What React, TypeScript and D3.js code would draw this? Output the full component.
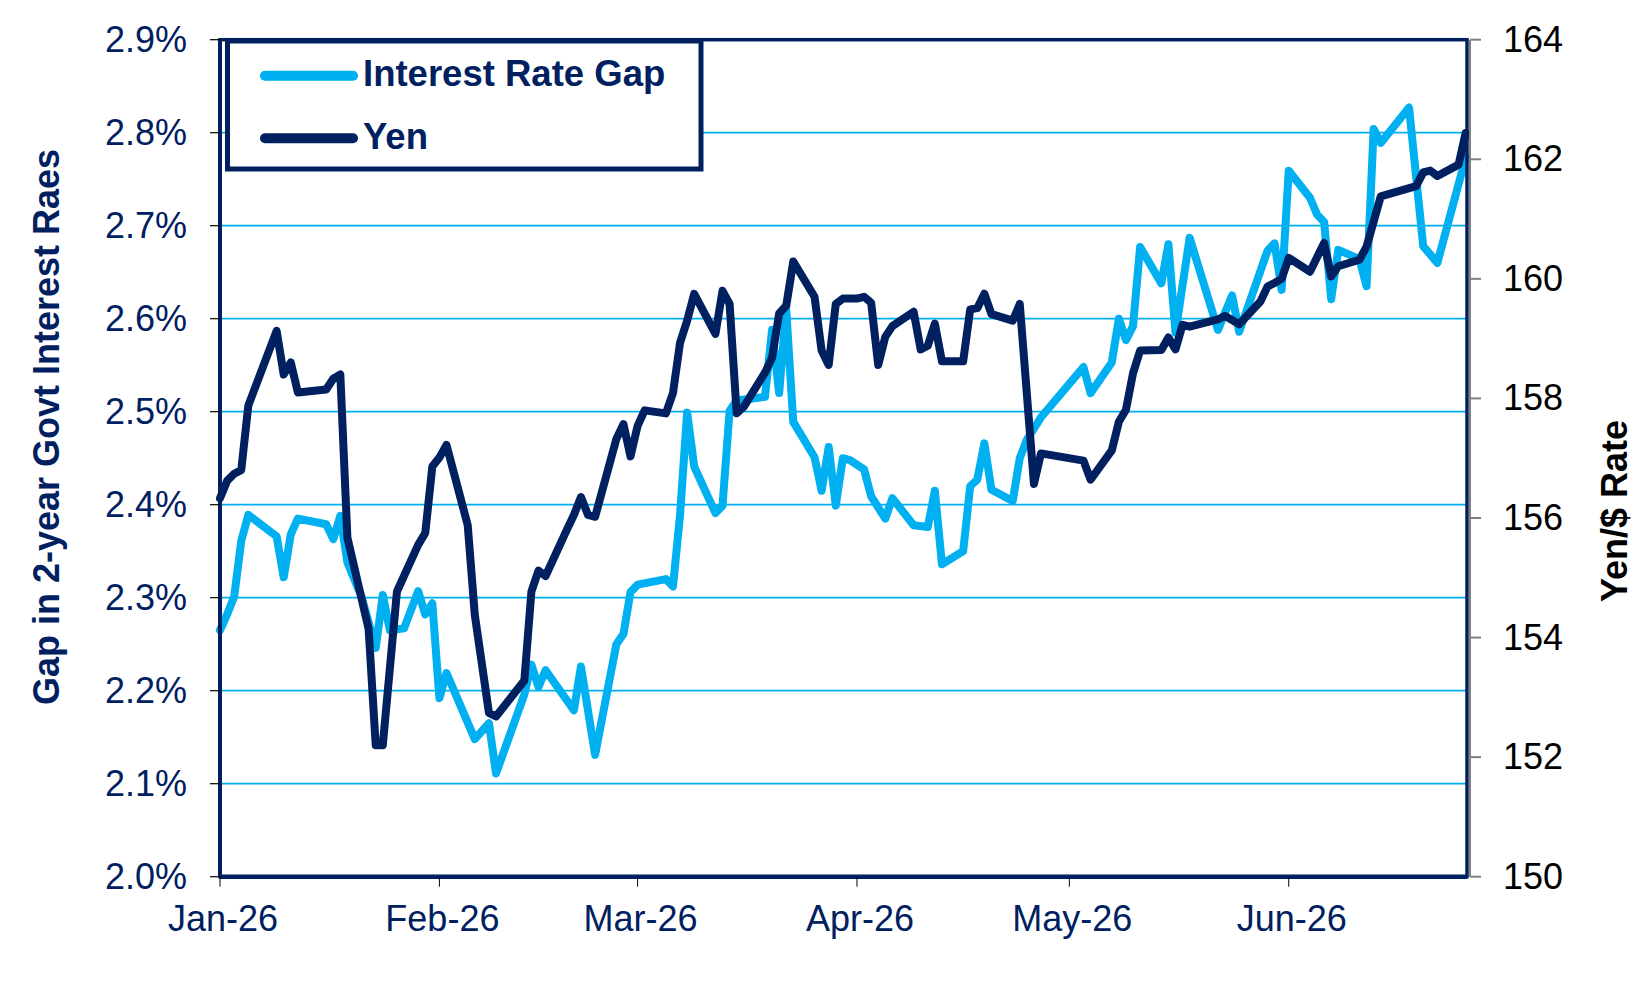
import React from "react";
import * as d3 from "d3";

// ---- Data ----
const yenDates = [
  "2026-01-01","2026-01-02","2026-01-03","2026-01-04","2026-01-05","2026-01-09","2026-01-10","2026-01-11","2026-01-12",
  "2026-01-16","2026-01-17","2026-01-18","2026-01-19","2026-01-22","2026-01-23","2026-01-24","2026-01-26","2026-01-29",
  "2026-01-30","2026-01-31","2026-02-01","2026-02-02","2026-02-05","2026-02-06","2026-02-08","2026-02-09","2026-02-13",
  "2026-02-14","2026-02-15","2026-02-16","2026-02-19","2026-02-20","2026-02-21","2026-02-22","2026-02-23","2026-02-26",
  "2026-02-27","2026-02-28","2026-03-01","2026-03-02","2026-03-05","2026-03-06","2026-03-07","2026-03-08","2026-03-09",
  "2026-03-12","2026-03-13","2026-03-14","2026-03-15","2026-03-16","2026-03-19","2026-03-20","2026-03-21","2026-03-22",
  "2026-03-23","2026-03-26","2026-03-27","2026-03-28","2026-03-29","2026-03-30","2026-04-01","2026-04-02","2026-04-03",
  "2026-04-04","2026-04-05","2026-04-06","2026-04-09","2026-04-10","2026-04-11","2026-04-12","2026-04-13","2026-04-16",
  "2026-04-17","2026-04-18","2026-04-19","2026-04-20","2026-04-23","2026-04-24","2026-04-26","2026-04-27","2026-05-03",
  "2026-05-04","2026-05-07","2026-05-08","2026-05-09","2026-05-10","2026-05-11","2026-05-14","2026-05-15","2026-05-16",
  "2026-05-17","2026-05-18","2026-05-22","2026-05-23","2026-05-25","2026-05-28","2026-05-29","2026-05-30","2026-05-31",
  "2026-06-01","2026-06-04","2026-06-06","2026-06-07","2026-06-08","2026-06-11","2026-06-12","2026-06-14","2026-06-19",
  "2026-06-20","2026-06-21","2026-06-22","2026-06-25","2026-06-26",
];
const yenValues = [
  156.33,156.62,156.74,156.8,157.88,159.13,158.4,158.6,158.1,
  158.15,158.33,158.4,155.67,154.14,152.2,152.2,154.77,155.55,
  155.75,156.86,157.01,157.22,155.88,154.38,152.74,152.68,153.28,
  154.77,155.12,155.03,155.8,156.05,156.35,156.05,156.02,157.32,
  157.57,157.03,157.54,157.8,157.75,158.09,158.93,159.3,159.75,
  159.08,159.8,159.58,157.75,157.86,158.43,158.68,159.42,159.55,
  160.29,159.7,158.8,158.56,159.58,159.67,159.67,159.7,159.6,
  158.56,159.03,159.21,159.45,158.82,158.88,159.25,158.62,158.62,
  159.49,159.51,159.75,159.41,159.3,159.58,156.57,157.08,156.96,
  156.64,157.13,157.61,157.81,158.42,158.8,158.81,159.02,158.82,
  159.23,159.2,159.32,159.38,159.24,159.62,159.87,159.93,160.0,
  160.35,160.12,160.6,160.04,160.21,160.32,160.54,161.38,161.55,
  161.78,161.81,161.72,161.91,162.44,
];

const gapDates = [
  "2026-01-01","2026-01-02","2026-01-03","2026-01-04","2026-01-05","2026-01-09","2026-01-10","2026-01-11","2026-01-12",
  "2026-01-16","2026-01-17","2026-01-18","2026-01-19","2026-01-21","2026-01-23","2026-01-24","2026-01-25","2026-01-27",
  "2026-01-29","2026-01-30","2026-01-31","2026-02-01","2026-02-02","2026-02-06","2026-02-08","2026-02-09","2026-02-13",
  "2026-02-14","2026-02-15","2026-02-16","2026-02-20","2026-02-21","2026-02-23","2026-02-26","2026-02-27","2026-02-28",
  "2026-03-01","2026-03-05","2026-03-06","2026-03-07","2026-03-08","2026-03-09","2026-03-12","2026-03-13","2026-03-14",
  "2026-03-15","2026-03-17","2026-03-19","2026-03-20","2026-03-21","2026-03-22","2026-03-23","2026-03-26","2026-03-27",
  "2026-03-28","2026-03-29","2026-03-30","2026-03-31","2026-04-02","2026-04-03","2026-04-05","2026-04-06","2026-04-09",
  "2026-04-11","2026-04-12","2026-04-13","2026-04-16","2026-04-17","2026-04-18","2026-04-19","2026-04-20","2026-04-23",
  "2026-04-24","2026-04-25","2026-04-27","2026-05-03","2026-05-04","2026-05-07","2026-05-08","2026-05-09","2026-05-10",
  "2026-05-11","2026-05-14","2026-05-15","2026-05-16","2026-05-18","2026-05-22","2026-05-24","2026-05-25","2026-05-29",
  "2026-05-30","2026-05-31","2026-06-01","2026-06-04","2026-06-05","2026-06-06","2026-06-07","2026-06-08","2026-06-11",
  "2026-06-12","2026-06-13","2026-06-14","2026-06-18","2026-06-20","2026-06-22","2026-06-26",
];
const gapValues = [
  2.265,2.282,2.301,2.361,2.389,2.366,2.322,2.368,2.385,
  2.379,2.363,2.388,2.338,2.301,2.246,2.303,2.265,2.267,
  2.307,2.282,2.294,2.192,2.219,2.148,2.165,2.111,2.196,
  2.228,2.204,2.222,2.179,2.226,2.131,2.25,2.261,2.306,
  2.314,2.32,2.312,2.389,2.499,2.441,2.391,2.399,2.501,
  2.512,2.514,2.516,2.588,2.52,2.61,2.489,2.451,2.415,
  2.462,2.399,2.45,2.448,2.438,2.409,2.385,2.407,2.378,
  2.376,2.415,2.336,2.35,2.42,2.427,2.466,2.416,2.404,
  2.45,2.47,2.494,2.548,2.52,2.553,2.6,2.577,2.592,
  2.677,2.638,2.68,2.585,2.687,2.588,2.625,2.586,2.673,
  2.681,2.631,2.759,2.73,2.712,2.704,2.621,2.674,2.664,
  2.635,2.804,2.789,2.827,2.678,2.66,2.773,
];

const leftTicks = [2.0, 2.1, 2.2, 2.3, 2.4, 2.5, 2.6, 2.7, 2.8, 2.9];
const rightTicks = [150, 152, 154, 156, 158, 160, 162, 164];
const monthTicks = ["2026-01-01","2026-02-01","2026-03-01","2026-04-01","2026-05-01","2026-06-01"];
const seriesNames = ["Interest Rate Gap", "Yen"];
const leftTitle = "Gap in 2-year Govt Interest Raes";
const rightTitle = "Yen/$ Rate";

// ---- Styles ----
const NAVY = "#002060";
const LIGHT = "#00B0F0";
const FONT = "'Liberation Sans', Arial, sans-serif";

const parse = (s: string) => new Date(s + "T00:00:00Z");

export default function App() {
  const W = 1650, H = 989;
  const left = 220, right = 1467, top = 39.7, bottom = 876.7;

  const x = d3
    .scaleUtc()
    .domain([parse("2026-01-01"), new Date(Date.UTC(2026, 0, 1) + 176.4 * 86400000)])
    .range([left, 1468.5]);
  const yL = d3.scaleLinear().domain([2.0, 2.9]).range([bottom, top]);
  const yR = d3.scaleLinear().domain([150, 164]).range([bottom, top]);

  const gapData = gapDates.map((d, i) => ({ d: parse(d), v: gapValues[i] }));
  const yenData = yenDates.map((d, i) => ({ d: parse(d), v: yenValues[i] }));

  const gapLine = d3.line<{ d: Date; v: number }>().x((p) => x(p.d)).y((p) => yL(p.v));
  const yenLine = d3.line<{ d: Date; v: number }>().x((p) => x(p.d)).y((p) => yR(p.v));
  const fmtMonth = d3.utcFormat("%b-%y");
  const fmtPct = (v: number) => d3.format(".1f")(v) + "%";

  return (
    <div style={{ position: "absolute", left: 0, top: 0 }}>
      <svg width={W} height={H} style={{ display: "block", background: "#fff" }} fontFamily={FONT}>
        {/* gridlines */}
        {leftTicks.slice(1, -1).map((t) => (
          <line key={"g" + t} x1={left} x2={right} y1={yL(t)} y2={yL(t)} stroke={LIGHT} strokeWidth={1.8} />
        ))}

        {/* series */}
        <path d={gapLine(gapData) || ""} fill="none" stroke={LIGHT} strokeWidth={8} strokeLinejoin="round" strokeLinecap="round" />
        <path d={yenLine(yenData) || ""} fill="none" stroke={NAVY} strokeWidth={8} strokeLinejoin="round" strokeLinecap="round" />

        {/* frame */}
        <rect x={left} y={top} width={right - left} height={bottom - top} fill="none" stroke={NAVY} strokeWidth={3.5} />
        <line x1={left} x2={left} y1={top} y2={bottom} stroke={NAVY} strokeWidth={4} />
        <line x1={left} x2={right} y1={bottom} y2={bottom} stroke={NAVY} strokeWidth={4.5} />

        {/* left axis ticks & labels */}
        {leftTicks.map((t) => (
          <g key={"l" + t}>
            <line x1={left - 10} x2={left} y1={yL(t)} y2={yL(t)} stroke="#000" strokeWidth={1.2} />
            <text x={187} y={yL(t) + 12.5} textAnchor="end" fontSize={36} fill={NAVY}>
              {fmtPct(t)}
            </text>
          </g>
        ))}

        {/* right axis */}
        <line x1={1470} x2={1470} y1={top} y2={bottom} stroke="#808080" strokeWidth={2} />
        {rightTicks.map((t) => (
          <g key={"r" + t}>
            <line x1={1470} x2={1481} y1={yR(t)} y2={yR(t)} stroke="#808080" strokeWidth={2} />
            <text x={1503} y={yR(t) + 12} textAnchor="start" fontSize={36} fill="#000">
              {t}
            </text>
          </g>
        ))}

        {/* x axis */}
        {monthTicks.map((m) => {
          const xx = x(parse(m));
          return (
            <g key={m}>
              <line x1={xx} x2={xx} y1={bottom} y2={bottom + 10} stroke="#000" strokeWidth={1} />
              <text x={xx + 3} y={931} textAnchor="middle" fontSize={36} fill={NAVY}>
                {fmtMonth(parse(m))}
              </text>
            </g>
          );
        })}

        {/* axis titles */}
        <text transform="translate(59,427) rotate(-90)" textAnchor="middle" fontSize={36} fontWeight="bold" fill={NAVY}>
          {leftTitle}
        </text>
        <text transform="translate(1627,511) rotate(-90)" textAnchor="middle" fontSize={36} fontWeight="bold" fill="#000">
          {rightTitle}
        </text>

        {/* legend */}
        <rect x={227.5} y={41} width={473.5} height={128} fill="#fff" stroke={NAVY} strokeWidth={5} />
        <line x1={265} x2={353} y1={75.7} y2={75.7} stroke={LIGHT} strokeWidth={10} strokeLinecap="round" />
        <text x={363} y={86} fontSize={36.5} fontWeight="bold" fill={NAVY}>
          {seriesNames[0]}
        </text>
        <line x1={265} x2={353} y1={138.3} y2={138.3} stroke={NAVY} strokeWidth={10} strokeLinecap="round" />
        <text x={363} y={149.3} fontSize={36.5} fontWeight="bold" fill={NAVY}>
          {seriesNames[1]}
        </text>
      </svg>
    </div>
  );
}
